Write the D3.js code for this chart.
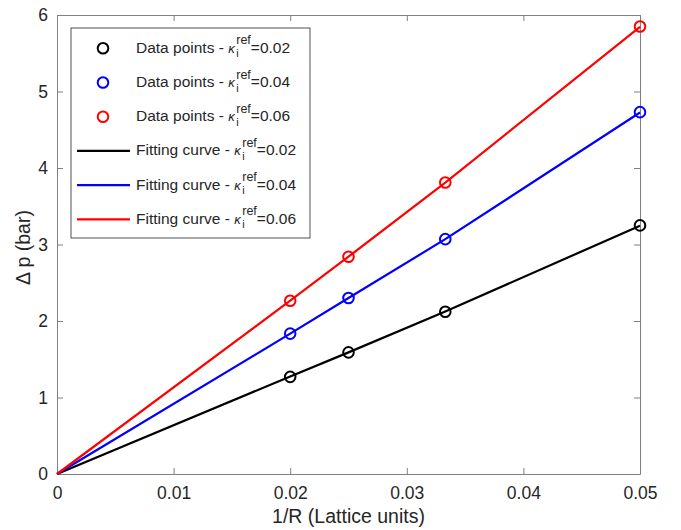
<!DOCTYPE html>
<html>
<head>
<meta charset="utf-8">
<script src="https://cdn.jsdelivr.net/npm/d3@7"></script>
<style>
  body { margin: 0; background: #fff; }
  text { font-family: "Liberation Sans", Arial, sans-serif; fill: #262626; }
</style>
</head>
<body>
<div id="chart"></div>
<script>
// data
const xPoints = [0.02, 0.025, 0.0333, 0.05]
const kappa002 = [1.27, 1.59, 2.12, 3.25]
const kappa004 = [1.835, 2.30, 3.07, 4.73]
const kappa006 = [2.265, 2.84, 3.81, 5.85]

// fitting curves, evaluated at the origin and at the data abscissas
const xFit = [0, 0.02, 0.025, 0.0333, 0.05]
const fit002 = [0, 1.275, 1.59, 2.125, 3.245]
const fit004 = [0, 1.835, 2.30, 3.07, 4.725]
const fit006 = [0, 2.265, 2.84, 3.81, 5.845]

const xTicks = [0, 0.01, 0.02, 0.03, 0.04, 0.05]
const yTicks = [0, 1, 2, 3, 4, 5, 6]
const kappaLabels = ['0.02', '0.04', '0.06']
const colors = ['#000000', '#0000ff', '#ff0000']

const width = 681, height = 530
const margin = {top: 15, right: 41, bottom: 56, left: 57}
const w = width - margin.left - margin.right
const h = height - margin.top - margin.bottom

const svg = d3.select('#chart').append('svg')
    .attr('width', width)
    .attr('height', height)

const g = svg.append('g')
    .attr('transform', `translate(${margin.left},${margin.top})`)

const x = d3.scaleLinear().domain([0, 0.05]).range([0, w])
const y = d3.scaleLinear().domain([0, 6]).range([h, 0])

// axes, MATLAB style: ticks inside, box on
function styleAxis(sel) {
    sel.select('.domain').attr('stroke', '#808080')
    sel.selectAll('.tick line').attr('stroke', '#808080')
    sel.selectAll('.tick text')
        .style('font-size', '17.5px')
        .style('font-family', '"Liberation Sans", Arial, sans-serif')
        .attr('fill', '#262626')
}

g.append('g')
    .attr('transform', `translate(0,${h})`)
    .call(d3.axisBottom(x).tickValues(xTicks).tickSizeInner(-6).tickSizeOuter(0).tickPadding(13)
        .tickFormat(d => d === 0 ? '0' : d3.format('.2f')(d)))
    .call(styleAxis)

g.append('g')
    .call(d3.axisTop(x).tickValues(xTicks).tickSizeInner(-6).tickSizeOuter(0).tickFormat(''))
    .call(styleAxis)

g.append('g')
    .call(d3.axisLeft(y).tickValues(yTicks).tickSizeInner(-6).tickSizeOuter(0).tickPadding(9)
        .tickFormat(d3.format('d')))
    .call(styleAxis)

g.append('g')
    .attr('transform', `translate(${w},0)`)
    .call(d3.axisRight(y).tickValues(yTicks).tickSizeInner(-6).tickSizeOuter(0).tickFormat(''))
    .call(styleAxis)

// axis titles
svg.append('text')
    .attr('x', margin.left + w / 2)
    .attr('y', 523)
    .attr('text-anchor', 'middle')
    .style('font-size', '19.5px')
    .text('1/R (Lattice units)')

svg.append('text')
    .attr('transform', `translate(30,${margin.top + h / 2 + 3}) rotate(-90)`)
    .attr('text-anchor', 'middle')
    .style('font-size', '19.5px')
    .text('Δ p (bar)')

// fitting lines
const fits = [fit002, fit004, fit006]
const line = d3.line().x(d => x(d[0])).y(d => y(d[1]))
fits.forEach((f, i) => {
    g.append('path')
        .datum(xFit.map((xv, j) => [xv, f[j]]))
        .attr('d', line)
        .attr('fill', 'none')
        .attr('stroke', colors[i])
        .attr('stroke-width', 2.2)
})

// data points
const series = [kappa002, kappa004, kappa006]
series.forEach((s, i) => {
    g.selectAll('.pt' + i)
        .data(xPoints.map((xv, j) => [xv, s[j]]))
        .enter()
        .append('circle')
        .attr('class', 'pt' + i)
        .attr('cx', d => x(d[0]))
        .attr('cy', d => y(d[1]))
        .attr('r', 5.3)
        .attr('fill', 'none')
        .attr('stroke', colors[i])
        .attr('stroke-width', 2)
})

// legend
const legend = svg.append('g').attr('transform', 'translate(71,28)')
legend.append('rect')
    .attr('width', 239)
    .attr('height', 210)
    .attr('fill', '#fff')
    .attr('stroke', '#262626')
    .attr('stroke-width', 0.8)

const entries = []
kappaLabels.forEach((k, i) => entries.push({type: 'pt', label: 'Data points - ', k, color: colors[i]}))
kappaLabels.forEach((k, i) => entries.push({type: 'line', label: 'Fitting curve - ', k, color: colors[i]}))

entries.forEach((e, i) => {
    const cy = 20.3 + i * 34.2
    const row = legend.append('g').attr('transform', `translate(0,${cy})`)
    if (e.type === 'pt') {
        row.append('circle')
            .attr('cx', 32).attr('cy', 0).attr('r', 5.3)
            .attr('fill', 'none').attr('stroke', e.color).attr('stroke-width', 2)
    } else {
        row.append('line')
            .attr('x1', 6).attr('x2', 59).attr('y1', 0).attr('y2', 0)
            .attr('stroke', e.color).attr('stroke-width', 2.2)
    }
    // label with kappa, subscript i and superscript ref, all in one text
    const t = row.append('text')
        .attr('x', 65).attr('y', 4.4)
        .attr('xml:space', 'preserve')
        .style('font-size', '15.5px')
    t.append('tspan').text(e.label)
    t.append('tspan')
        .style('font-size', '13px')
        .style('font-style', 'italic')
        .text('κ')
    t.append('tspan')
        .attr('dx', 1.5).attr('dy', 4.6)
        .style('font-size', '11px')
        .text('i')
    t.append('tspan')
        .attr('dx', -2.4).attr('dy', -13)
        .style('font-size', '12.5px')
        .text('ref')
    t.append('tspan')
        .attr('dy', 8.4)
        .text('=' + e.k)
})
</script>
</body>
</html>
